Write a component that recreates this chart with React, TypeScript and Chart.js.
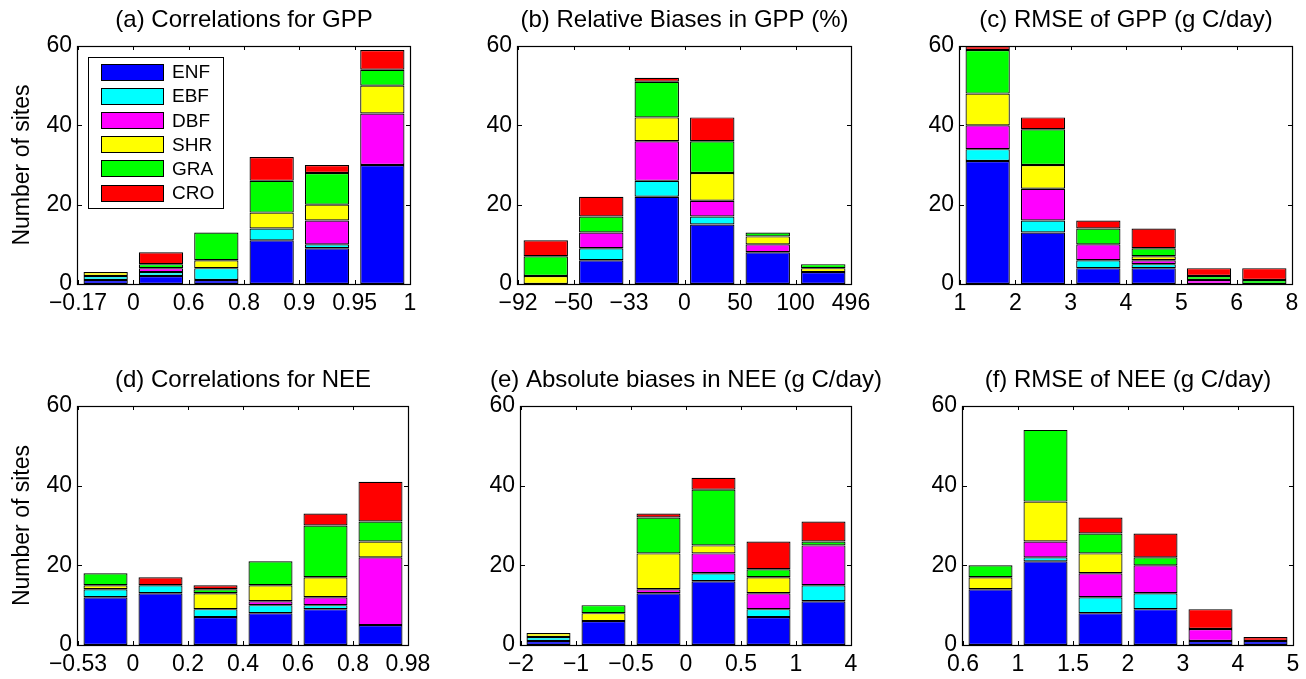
import React, { useEffect, useRef } from 'react';
import { Chart, registerables } from 'chart.js';

Chart.register(...registerables);

// ---------- data ----------
const seriesNames = ['ENF', 'EBF', 'DBF', 'SHR', 'GRA', 'CRO'];
const seriesColors = ['#0000ff', '#00ffff', '#ff00ff', '#ffff00', '#00ff00', '#ff0000'];

// (a) Correlations for GPP
const gppCorrEdges = ['\u22120.17', '0', '0.6', '0.8', '0.9', '0.95', '1'];
const gppCorrENF = [1, 2, 1, 11, 9, 30];
const gppCorrEBF = [1, 1, 3, 3, 1, 0];
const gppCorrDBF = [0, 1, 0, 0, 6, 13];
const gppCorrSHR = [1, 0, 2, 4, 4, 7];
const gppCorrGRA = [0, 1, 7, 8, 8, 4];
const gppCorrCRO = [0, 3, 0, 6, 2, 5];

// (b) Relative Biases in GPP (%)
const gppBiasEdges = ['\u221292', '\u221250', '\u221233', '0', '50', '100', '496'];
const gppBiasENF = [0, 6, 22, 15, 8, 3];
const gppBiasEBF = [0, 3, 4, 2, 0, 0];
const gppBiasDBF = [0, 4, 10, 4, 2, 0];
const gppBiasSHR = [2, 0, 6, 7, 2, 1];
const gppBiasGRA = [5, 4, 9, 8, 1, 1];
const gppBiasCRO = [4, 5, 1, 6, 0, 0];

// (c) RMSE of GPP (g C/day)
const gppRmseEdges = ['1', '2', '3', '4', '5', '6', '8'];
const gppRmseENF = [31, 13, 4, 4, 0, 0];
const gppRmseEBF = [3, 3, 2, 1, 0, 0];
const gppRmseDBF = [6, 8, 4, 1, 1, 0];
const gppRmseSHR = [8, 6, 0, 1, 0, 0];
const gppRmseGRA = [11, 9, 4, 2, 1, 1];
const gppRmseCRO = [1, 3, 2, 5, 2, 3];

// (d) Correlations for NEE
const neeCorrEdges = ['\u22120.53', '0', '0.2', '0.4', '0.6', '0.8', '0.98'];
const neeCorrENF = [12, 13, 7, 8, 9, 5];
const neeCorrEBF = [2, 2, 2, 2, 1, 0];
const neeCorrDBF = [0, 0, 0, 1, 2, 17];
const neeCorrSHR = [1, 0, 4, 4, 5, 4];
const neeCorrGRA = [3, 0, 1, 6, 13, 5];
const neeCorrCRO = [0, 2, 1, 0, 3, 10];

// (e) Absolute biases in NEE (g C/day)
const neeBiasEdges = ['\u22122', '\u22121', '\u22120.5', '0', '0.5', '1', '4'];
const neeBiasENF = [1, 6, 13, 16, 7, 11];
const neeBiasEBF = [1, 0, 0, 2, 2, 4];
const neeBiasDBF = [0, 0, 1, 5, 4, 10];
const neeBiasSHR = [1, 2, 9, 2, 4, 0];
const neeBiasGRA = [0, 2, 9, 14, 2, 1];
const neeBiasCRO = [0, 0, 1, 3, 7, 5];

// (f) RMSE of NEE (g C/day)
const neeRmseEdges = ['0.6', '1', '1.5', '2', '3', '4', '5'];
const neeRmseENF = [14, 21, 8, 9, 1, 1];
const neeRmseEBF = [0, 1, 4, 4, 0, 0];
const neeRmseDBF = [0, 4, 6, 7, 3, 0];
const neeRmseSHR = [3, 10, 5, 0, 0, 0];
const neeRmseGRA = [3, 18, 5, 2, 0, 0];
const neeRmseCRO = [0, 0, 4, 6, 5, 1];

const yTicksMax = 60;
const yTickStep = 20;

// ---------- layout ----------
const FONT = '"Liberation Sans", Arial, Helvetica, sans-serif';
const SIDE = 80; // space left and right of plot area in each canvas
const TOP_SPACE = 46;
const BOTTOM_SPACE = 40;

type PanelDef = {
  title: string;
  edges: string[];
  series: number[][];
  box: [number, number, number, number]; // x0, y0, x1, y1 of plot area on page
  yTitle: boolean;
  legend: boolean;
};

const panels: PanelDef[] = [
  { title: '(a) Correlations for GPP', edges: gppCorrEdges,
    series: [gppCorrENF, gppCorrEBF, gppCorrDBF, gppCorrSHR, gppCorrGRA, gppCorrCRO],
    box: [78, 46, 410, 284], yTitle: true, legend: true },
  { title: '(b) Relative Biases in GPP (%)', edges: gppBiasEdges,
    series: [gppBiasENF, gppBiasEBF, gppBiasDBF, gppBiasSHR, gppBiasGRA, gppBiasCRO],
    box: [518, 46, 851, 284], yTitle: false, legend: false },
  { title: '(c) RMSE of GPP (g C/day)', edges: gppRmseEdges,
    series: [gppRmseENF, gppRmseEBF, gppRmseDBF, gppRmseSHR, gppRmseGRA, gppRmseCRO],
    box: [960, 46, 1292, 284], yTitle: false, legend: false },
  { title: '(d) Correlations for NEE', edges: neeCorrEdges,
    series: [neeCorrENF, neeCorrEBF, neeCorrDBF, neeCorrSHR, neeCorrGRA, neeCorrCRO],
    box: [78, 406, 408, 645], yTitle: true, legend: false },
  { title: '(e) Absolute biases in NEE (g C/day)', edges: neeBiasEdges,
    series: [neeBiasENF, neeBiasEBF, neeBiasDBF, neeBiasSHR, neeBiasGRA, neeBiasCRO],
    box: [521, 406, 851, 645], yTitle: false, legend: false },
  { title: '(f) RMSE of NEE (g C/day)', edges: neeRmseEdges,
    series: [neeRmseENF, neeRmseEBF, neeRmseDBF, neeRmseSHR, neeRmseGRA, neeRmseCRO],
    box: [963, 406, 1293, 645], yTitle: false, legend: false },
];

// ---------- plugins ----------
const framePlugin = {
  id: 'matlabFrame',
  afterDatasetsDraw(chart: any) {
    const { ctx, chartArea, scales } = chart;
    const { left, right, top, bottom } = chartArea;
    const xs = scales.x;
    const ys = scales.y;
    ctx.save();
    ctx.strokeStyle = '#000';
    ctx.lineWidth = 1.2;
    ctx.strokeRect(left - 0.5, top + 0.5, right - left + 1, bottom - top);
    const tl = 4;
    ctx.lineWidth = 1;
    ctx.beginPath();
    xs.ticks.forEach((t: any) => {
      const px = Math.round(xs.getPixelForValue(t.value)) + 0.5;
      ctx.moveTo(px, bottom);
      ctx.lineTo(px, bottom - tl);
      ctx.moveTo(px, top);
      ctx.lineTo(px, top + tl);
    });
    ys.ticks.forEach((t: any) => {
      const py = Math.round(ys.getPixelForValue(t.value)) + 0.5;
      ctx.moveTo(left, py);
      ctx.lineTo(left + tl, py);
      ctx.moveTo(right, py);
      ctx.lineTo(right - tl, py);
    });
    ctx.stroke();
    ctx.restore();
  },
};

const panelTitlePlugin = {
  id: 'panelTitle',
  afterDraw(chart: any, _args: any, opts: any) {
    if (!opts || !opts.text) return;
    const { ctx, chartArea } = chart;
    ctx.save();
    ctx.font = '24px ' + FONT;
    ctx.fillStyle = '#000';
    ctx.textAlign = 'center';
    ctx.textBaseline = 'alphabetic';
    ctx.fillText(opts.text, (chartArea.left + chartArea.right) / 2, chartArea.top - 19);
    ctx.restore();
  },
};

const boxLegendPlugin = {
  id: 'boxLegend',
  afterDraw(chart: any, _args: any, opts: any) {
    if (!opts || !opts.show) return;
    const { ctx, chartArea } = chart;
    const bx = chartArea.left + 10;
    const by = chartArea.top + 11;
    const bw = 135;
    const bh = 151;
    ctx.save();
    ctx.fillStyle = '#fff';
    ctx.fillRect(bx, by, bw, bh);
    ctx.strokeStyle = '#000';
    ctx.lineWidth = 1;
    ctx.strokeRect(bx + 0.5, by + 0.5, bw, bh);
    ctx.font = '19px ' + FONT;
    ctx.textBaseline = 'middle';
    ctx.textAlign = 'left';
    chart.data.datasets.forEach((ds: any, i: number) => {
      const cy = by + 15 + i * 24.2;
      ctx.fillStyle = ds.backgroundColor;
      ctx.fillRect(bx + 13, Math.round(cy - 8.5), 63, 17);
      ctx.strokeStyle = '#000';
      ctx.strokeRect(bx + 13.5, Math.round(cy - 8.5) + 0.5, 62, 16);
      ctx.fillStyle = '#000';
      ctx.fillText(ds.label, bx + 84, cy + 1);
    });
    ctx.restore();
  },
};

// ---------- components ----------
function Panel({ p }: { p: PanelDef }) {
  const ref = useRef<HTMLCanvasElement | null>(null);
  const [x0, y0, x1, y1] = p.box;
  const w = x1 - x0 + SIDE * 2;
  const h = y1 - y0 + TOP_SPACE + BOTTOM_SPACE;
  const left = x0 - SIDE;
  const topPos = y0 - TOP_SPACE;

  useEffect(() => {
    if (!ref.current) return;
    const datasets = p.series.map((vals, si) => ({
      label: seriesNames[si],
      data: vals.map((v, i) => ({ x: i + 0.5, y: v })),
      backgroundColor: seriesColors[si],
      borderColor: '#000',
      borderWidth: 1.2,
      borderSkipped: false,
      inflateAmount: 0,
      barPercentage: 0.8,
      categoryPercentage: 1,
      stack: 'all',
    }));
    const tickFont = { family: FONT, size: 23, weight: 'normal' as const };
    const chart = new Chart(ref.current, {
      type: 'bar',
      data: { datasets },
      plugins: [framePlugin, boxLegendPlugin, panelTitlePlugin],
      options: {
        animation: false,
        responsive: false,
        maintainAspectRatio: false,
        devicePixelRatio: 1,
        layout: { padding: { left: 0, right: SIDE, top: TOP_SPACE, bottom: 0 } },
        plugins: {
          legend: { display: false },
          tooltip: { enabled: false },
          title: { display: false },
          boxLegend: { show: p.legend },
          panelTitle: { text: p.title },
        } as any,
        scales: {
          x: {
            type: 'linear',
            min: 0,
            max: p.edges.length - 1,
            stacked: true,
            offset: false,
            grid: { display: false, drawTicks: false, offset: false },
            border: { display: false },
            ticks: {
              stepSize: 1,
              autoSkip: false,
              maxRotation: 0,
              minRotation: 0,
              padding: 6,
              color: '#000',
              font: tickFont,
              callback: (v: any) => p.edges[Math.round(Number(v))] ?? '',
            },
            afterFit: (s: any) => { s.height = BOTTOM_SPACE; },
          },
          y: {
            type: 'linear',
            min: 0,
            max: yTicksMax,
            stacked: true,
            grid: { display: false, drawTicks: false },
            border: { display: false },
            ticks: { stepSize: yTickStep, padding: 6, color: '#000', font: tickFont },
            title: {
              display: p.yTitle,
              text: 'Number of sites',
              color: '#000',
              font: { family: FONT, size: 23, weight: 'normal', lineHeight: 1 },
              padding: { top: 13, bottom: 0 },
            },
            afterFit: (s: any) => { s.width = SIDE; },
          },
        } as any,
      } as any,
    } as any);
    return () => chart.destroy();
  }, []);

  return (
    <canvas
      ref={ref}
      width={w}
      height={h}
      style={{ position: 'absolute', left, top: topPos, width: w, height: h }}
    />
  );
}

export default function App() {
  return (
    <div style={{ position: 'absolute', left: 0, top: 0, width: 1306, height: 679, background: '#fff', overflow: 'hidden' }}>
      {panels.map((p, i) => (
        <Panel key={i} p={p} />
      ))}
    </div>
  );
}
